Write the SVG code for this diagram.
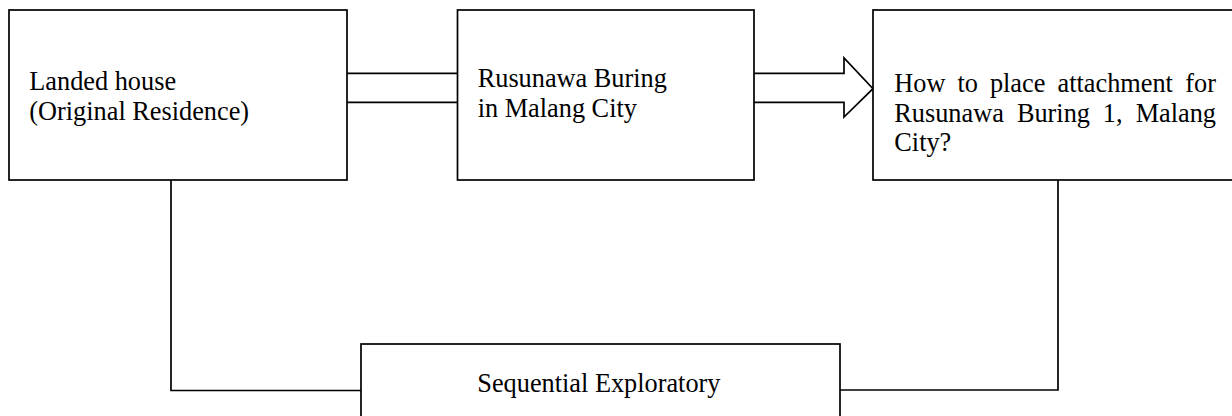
<svg xmlns="http://www.w3.org/2000/svg" width="1232" height="416" viewBox="0 0 1232 416">
<style>
.box{fill:#fff;stroke:#000;stroke-width:1.7}
.ln{fill:none;stroke:#000;stroke-width:1.7}
text{font-family:"Liberation Serif","Times New Roman",serif;font-size:26.3px;fill:#000}
</style>
<rect width="1232" height="416" fill="#fff"/>
<g id="connectors">
<path class="ln" d="M347 73.3 H457.5 M347 102.3 H457.5"/>
<path class="ln" d="M754 73.3 H844 V58 L873 88.7 L844 117 V102.3 H754"/>
<path class="ln" d="M171 180 V390.5 H361"/>
<path class="ln" d="M1058 180 V390 H840"/>
</g>
<g id="node-landed">
<rect class="box" x="9" y="10" width="338" height="170"/>
<text x="29.3" y="89.5">Landed house</text>
<text x="29.3" y="119.5">(Original Residence)</text>
</g>
<g id="node-rusunawa">
<rect class="box" x="457.5" y="10" width="296.5" height="170"/>
<text x="477.7" y="86.5">Rusunawa Buring</text>
<text x="477.7" y="116.5">in Malang City</text>
</g>
<g id="node-question">
<rect class="box" x="873" y="10" width="370" height="170"/>
<text y="92.3"><tspan x="894.3">How</tspan><tspan x="957.5">to</tspan><tspan x="989.9">place</tspan><tspan x="1057.5">attachment</tspan><tspan x="1216" text-anchor="end">for</tspan></text>
<text y="121.7"><tspan x="894.3">Rusunawa</tspan><tspan x="1016.9">Buring</tspan><tspan x="1102.8">1,</tspan><tspan x="1216" text-anchor="end">Malang</tspan></text>
<text x="894.3" y="150.5">City?</text>
</g>
<g id="node-sequential">
<rect class="box" x="361" y="344" width="479" height="90"/>
<text x="477.3" y="391.7">Sequential Exploratory</text>
</g>
</svg>
